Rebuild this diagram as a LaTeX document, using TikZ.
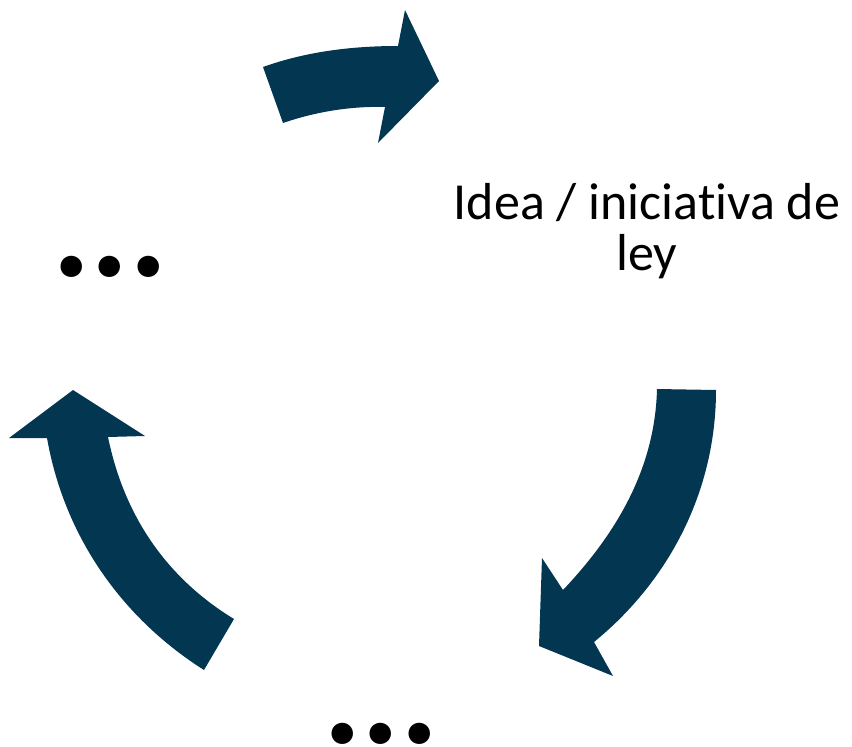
\documentclass[tikz,border=0pt]{standalone}
\usepackage{fontspec}
\setmainfont{Carlito}[Ligatures=NoCommon]
\definecolor{navy}{RGB}{2,54,81}
\begin{document}
\begin{tikzpicture}[x=1pt,y=-1pt,
  arrowshape/.style={fill=navy,draw=none},
  dots/.style={inner sep=0pt,anchor=base west,font=\fontsize{144}{150}\selectfont\bfseries},
  label/.style={inner sep=0pt,align=center,font=\fontsize{52}{51}\selectfont}]
\useasboundingbox (0,0) rectangle (852,747);
% top arrow
\fill[arrowshape] (263,67) .. controls (305,52) and (350,46) .. (398,46)
  -- (405,10) -- (439,81) -- (378,143) -- (385,107)
  .. controls (350,106) and (315,112) .. (283,123) -- cycle;
% right arrow
\fill[arrowshape] (716,390) .. controls (716,490) and (670,580) .. (594,642)
  -- (613,676) -- (539,646) -- (542,558) -- (563,590)
  .. controls (615,535) and (655,470) .. (657,389) -- cycle;
% left arrow
\fill[arrowshape] (204,670) .. controls (125,620) and (65,540) .. (47,438)
  -- (9,438) -- (73,390) -- (145,436) -- (108,437)
  .. controls (125,520) and (170,580) .. (234,619) -- cycle;
\node[label,anchor=base] (idea) at (647,270) {Idea / iniciat{}iva de\\ley};
\node[dots] (dl) at (52,276) {...};
\node[dots] (db) at (323,743) {...};
\end{tikzpicture}
\end{document}
